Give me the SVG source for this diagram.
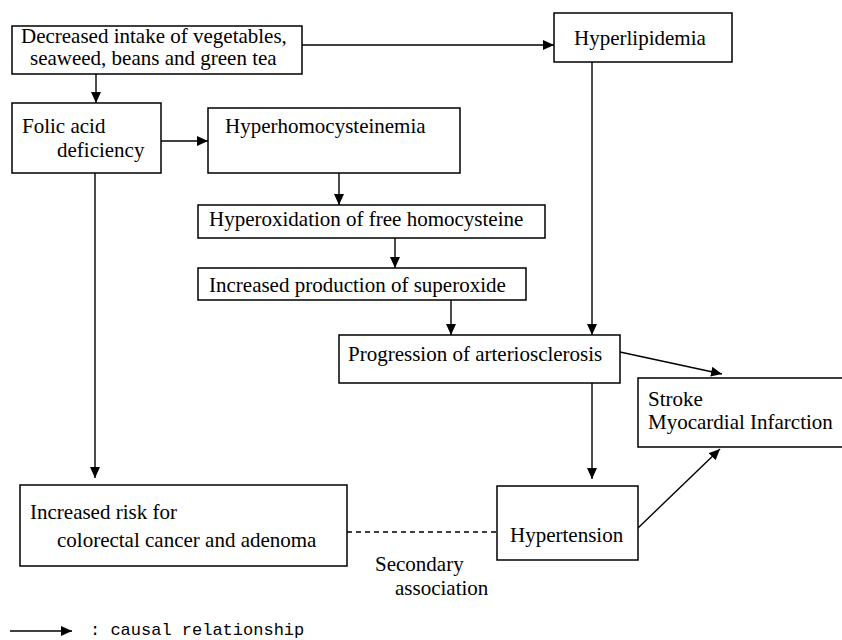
<svg xmlns="http://www.w3.org/2000/svg" width="842" height="640" viewBox="0 0 842 640">
<style>
.box{fill:#fff;stroke:#000;stroke-width:1.5}
.t{font-family:"Liberation Serif","Times New Roman",serif;font-size:21px;fill:#000}
.c{stroke:#000;stroke-width:1.4;fill:none}
.ca{stroke:#000;stroke-width:1.4;fill:none;marker-end:url(#ah)}
.dash{stroke:#000;stroke-width:1.3;fill:none;stroke-dasharray:5,4}
.leg{font-family:"Liberation Mono","DejaVu Sans Mono",monospace;font-size:17px;fill:#000}
</style>
<defs>
<marker id="ah" markerUnits="userSpaceOnUse" markerWidth="12" markerHeight="10" refX="11" refY="5" orient="auto">
<path d="M0,0 L11,5 L0,10 z" fill="#000"/>
</marker>
</defs>
<rect width="842" height="640" fill="#fff"/>
<g id="connectors">
<line class="ca" x1="96" y1="74" x2="96" y2="103"/>
<line class="ca" x1="302" y1="45" x2="554" y2="45"/>
<line class="ca" x1="161" y1="141" x2="208" y2="141"/>
<line class="ca" x1="339" y1="173" x2="339" y2="205"/>
<line class="ca" x1="395" y1="238" x2="395" y2="268"/>
<line class="ca" x1="451" y1="300" x2="451" y2="335"/>
<line class="ca" x1="592" y1="62" x2="592" y2="335"/>
<line class="ca" x1="620" y1="352" x2="722" y2="374"/>
<line class="ca" x1="592" y1="383" x2="592" y2="479"/>
<line class="ca" x1="638" y1="528" x2="720" y2="449"/>
<line class="ca" x1="95" y1="173" x2="95" y2="478"/>
<line class="dash" x1="347" y1="532" x2="497" y2="532"/>
<text class="t" x="375" y="571">Secondary</text>
<text class="t" x="395" y="595">association</text>
</g>
<g id="n-intake">
<rect class="box" x="12" y="26" width="290" height="48"/>
<text class="t" x="21" y="43">Decreased intake of vegetables,</text>
<text class="t" x="30" y="65">seaweed, beans and green tea</text>
</g>
<g id="n-folic">
<rect class="box" x="12" y="103" width="149" height="70"/>
<text class="t" x="22" y="133">Folic acid</text>
<text class="t" x="57" y="157">deficiency</text>
</g>
<g id="n-hyperhomo">
<rect class="box" x="208" y="108" width="252" height="65"/>
<text class="t" x="225" y="133">Hyperhomocysteinemia</text>
</g>
<g id="n-hyperox">
<rect class="box" x="198" y="205" width="347" height="33"/>
<text class="t" x="209" y="226">Hyperoxidation of free homocysteine</text>
</g>
<g id="n-superoxide">
<rect class="box" x="198" y="268" width="328" height="32"/>
<text class="t" x="209" y="292">Increased production of superoxide</text>
</g>
<g id="n-hyperlipidemia">
<rect class="box" x="554" y="13" width="178" height="49"/>
<text class="t" x="574" y="45">Hyperlipidemia</text>
</g>
<g id="n-progression">
<rect class="box" x="339" y="335" width="281" height="48"/>
<text class="t" x="348" y="361">Progression of arteriosclerosis</text>
</g>
<g id="n-stroke">
<rect class="box" x="638" y="378" width="210" height="69"/>
<text class="t" x="648" y="406">Stroke</text>
<text class="t" x="648" y="429">Myocardial Infarction</text>
</g>
<g id="n-hypertension">
<rect class="box" x="497" y="486" width="141" height="74"/>
<text class="t" x="510" y="542">Hypertension</text>
</g>
<g id="n-colorectal">
<rect class="box" x="20" y="485" width="327" height="81"/>
<text class="t" x="30" y="519">Increased risk for</text>
<text class="t" x="57" y="547">colorectal cancer and adenoma</text>
</g>
<g id="legend">
<line class="ca" x1="10" y1="631" x2="72" y2="631"/>
<text class="leg" x="90" y="635">: causal relationship</text>
</g>
</svg>
